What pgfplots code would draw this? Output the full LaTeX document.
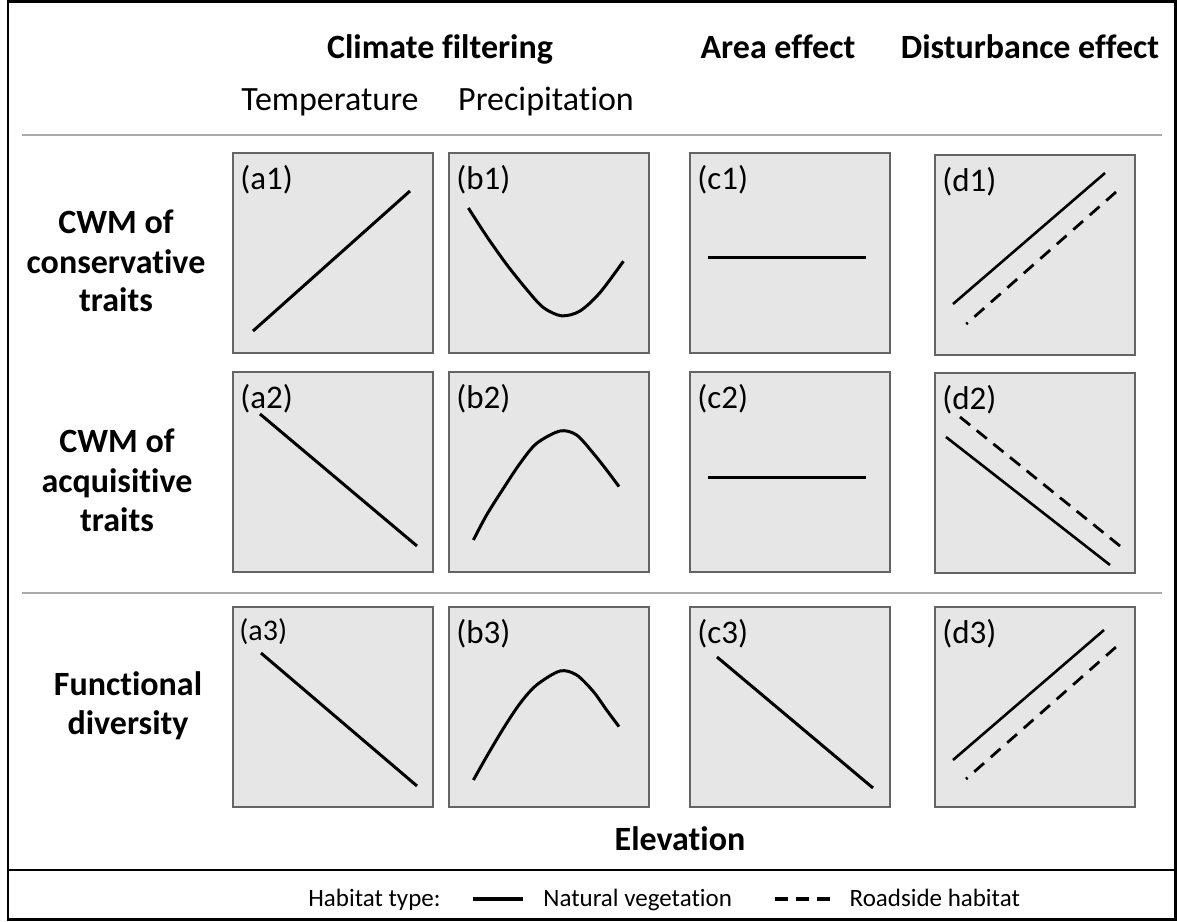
\documentclass[border=0pt]{standalone}
\usepackage{fontspec}
\setmainfont{Carlito}[Ligatures={NoCommon}]
\usepackage{pgfplots}
\pgfplotsset{compat=1.18}

\definecolor{panelgray}{RGB}{230,230,230}
\definecolor{boxgray}{RGB}{100,100,100}
\definecolor{rulegray}{RGB}{170,170,170}

\newcommand\hdb{\fontsize{17pt}{20pt}\selectfont\bfseries}
\newcommand\hdr{\fontsize{17pt}{20pt}\selectfont}
\newcommand\lab{\fontsize{16.5pt}{19pt}\selectfont}
\newcommand\lgd{\fontsize{12.5pt}{14pt}\selectfont}

\pgfplotsset{
  panel/.style={scale only axis, width=100pt, height=100pt, anchor=north west,
    xmin=0, xmax=1, ymin=0, ymax=1, xtick=\empty, ytick=\empty,
    axis line style={draw=boxgray, line width=0.65pt},
    axis background/.style={fill=panelgray}, clip=false},
  trend/.style={black, line width=1.5pt, no markers},
  road/.style={black, line width=1.4pt, no markers},
  solidkey/.style={legend image code/.code={%
    \path (-16pt,0pt) (35pt,0pt);
    \draw[black, line width=2.2pt] (0pt,0pt) -- (25pt,0pt);}},
  dashkey/.style={legend image code/.code={%
    \path (-21.5pt,0pt) (37pt,0pt);
    \draw[black, line width=2.2pt, dash pattern=on 6.5pt off 4pt] (0pt,0pt) -- (27.5pt,0pt);}},
}
\newcommand\plab[1]{\node[anchor=base west, inner sep=0pt, font=\lab] at (rel axis cs:0.035,0.82) {#1};}

\begin{document}
\begin{tikzpicture}
\useasboundingbox (0,0) rectangle (588.5pt,-460.5pt);

% ---------- row 1: CWM of conservative traits ----------
\begin{axis}[panel, at={(116.5pt,-76.5pt)}]
  \addplot[trend] coordinates {(0.10,0.11) (0.885,0.81)};
  \plab{(a1)}
\end{axis}
\begin{axis}[panel, at={(224.5pt,-76.5pt)}]
  \addplot[trend, smooth] coordinates {(0.097,0.725) (0.188,0.584) (0.288,0.443) (0.388,0.318) (0.472,0.227) (0.563,0.186) (0.655,0.210) (0.755,0.302) (0.872,0.459)};
  \plab{(b1)}
\end{axis}
\begin{axis}[panel, at={(345pt,-76.5pt)}]
  \addplot[trend] coordinates {(0.09,0.48) (0.88,0.48)};
  \plab{(c1)}
\end{axis}
\begin{axis}[panel, at={(467.5pt,-77.5pt)}]
  \addplot[trend, line width=1.3pt] coordinates {(0.09,0.255) (0.85,0.91)};
  \addplot[road, dash pattern=on 6.5pt off 4.48pt, dash phase=5.5pt] coordinates {(0.156,0.155) (0.905,0.815)};
  \plab{(d1)}
\end{axis}

% ---------- row 2: CWM of acquisitive traits ----------
\begin{axis}[panel, at={(116.5pt,-186pt)}]
  \addplot[trend] coordinates {(0.135,0.79) (0.92,0.13)};
  \plab{(a2)}
\end{axis}
\begin{axis}[panel, at={(224.5pt,-186pt)}]
  \addplot[trend, smooth] coordinates {(0.122,0.16) (0.188,0.285) (0.272,0.418) (0.355,0.543) (0.438,0.643) (0.555,0.705) (0.638,0.685) (0.722,0.593) (0.788,0.51) (0.85,0.427)};
  \plab{(b2)}
\end{axis}
\begin{axis}[panel, at={(345pt,-186pt)}]
  \addplot[trend] coordinates {(0.09,0.475) (0.88,0.475)};
  \plab{(c2)}
\end{axis}
\begin{axis}[panel, at={(467.5pt,-186.5pt)}]
  \addplot[trend, line width=1.3pt] coordinates {(0.055,0.68) (0.875,0.04)};
  \addplot[road, dash pattern=on 6.5pt off 4.2pt] coordinates {(0.125,0.78) (0.925,0.135)};
  \plab{(d2)}
\end{axis}

% ---------- row 3: functional diversity ----------
\begin{axis}[panel, at={(116.5pt,-303.5pt)}]
  \addplot[trend] coordinates {(0.14,0.77) (0.92,0.105)};
  \node[anchor=base west, inner sep=0pt, font=\fontsize{15pt}{17pt}\selectfont] at (rel axis cs:0.03,0.835) {(a3)};
\end{axis}
\begin{axis}[panel, at={(224.5pt,-303.5pt)}]
  \addplot[trend, smooth] coordinates {(0.122,0.135) (0.188,0.252) (0.272,0.393) (0.355,0.518) (0.438,0.61) (0.555,0.68) (0.638,0.66) (0.722,0.577) (0.788,0.485) (0.85,0.402)};
  \plab{(b3)}
\end{axis}
\begin{axis}[panel, at={(345pt,-303.5pt)}]
  \addplot[trend] coordinates {(0.135,0.75) (0.915,0.095)};
  \plab{(c3)}
\end{axis}
\begin{axis}[panel, at={(467.5pt,-303.5pt)}]
  \addplot[trend, line width=1.3pt] coordinates {(0.09,0.235) (0.845,0.885)};
  \addplot[road, dash pattern=on 6.5pt off 4.48pt, dash phase=5.5pt] coordinates {(0.155,0.14) (0.905,0.80)};
  \plab{(d3)}
\end{axis}

% ---------- legend strip ----------
\begin{axis}[hide axis, scale only axis, width=584pt, height=25.5pt,
    at={(4pt,-435pt)}, anchor=north west, xmin=0, xmax=1, ymin=0, ymax=1,
    legend columns=3,
    legend style={at={(0.2568,0.43)}, anchor=west, draw=none, fill=none,
      font=\lgd, inner sep=0pt, nodes={inner sep=0pt}, column sep=0pt}]
  \addlegendimage{empty legend}
  \addlegendentry{Habitat type:}
  \addlegendimage{solidkey}
  \addlegendentry{Natural vegetation}
  \addlegendimage{dashkey}
  \addlegendentry{Roadside habitat}
\end{axis}

% ---------- frame, rules and headings ----------
\begin{scope}[x=0.5pt, y=-0.5pt]
  \draw[line width=1.3pt] (8,1.3) rectangle (1175.7,919.7);
  \draw[line width=1.3pt] (8,870) -- (1175.7,870);
  \draw[rulegray, line width=1pt] (22,135) -- (1162,135);
  \draw[rulegray, line width=1pt] (22,593) -- (1162,593);

  \node[anchor=base, font=\hdb] at (440,58) {Climate filtering};
  \node[anchor=base, font=\hdb] at (778,58) {Area effect};
  \node[anchor=base, font=\hdb] at (1030,58) {Disturbance effect};
  \node[anchor=base, font=\hdr] at (330,110) {Temperature};
  \node[anchor=base, font=\hdr] at (546,110) {Precipitation};

  \node[anchor=base, font=\hdb] at (116,233) {CWM of};
  \node[anchor=base, font=\hdb] at (116,273) {conservative};
  \node[anchor=base, font=\hdb] at (116,311) {traits};
  \node[anchor=base, font=\hdb] at (117,452) {CWM of};
  \node[anchor=base, font=\hdb] at (117,492) {acquisitive};
  \node[anchor=base, font=\hdb] at (117,531) {traits};
  \node[anchor=base, font=\hdb] at (128,695) {Functional};
  \node[anchor=base, font=\hdb] at (128,734) {diversity};

  \node[anchor=base, font=\hdb] at (680,850) {Elevation};
\end{scope}
\end{tikzpicture}
\end{document}
